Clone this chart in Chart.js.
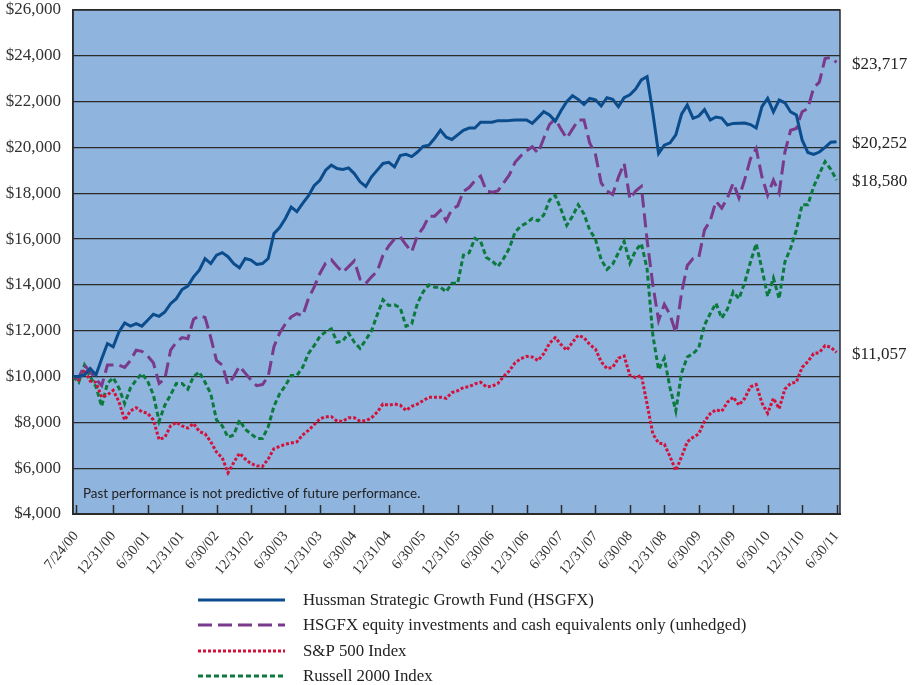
<!DOCTYPE html>
<html>
<head>
<meta charset="utf-8">
<script src="https://cdn.jsdelivr.net/npm/chart.js@4/dist/chart.umd.min.js"></script>
<style>
html,body{margin:0;padding:0;background:#fff;}
canvas{display:block;}
</style>
</head>
<body>
<canvas id="c" width="918" height="685"></canvas>
<script>
// Tick labels (every 6 months) and their positions in the monthly series (index)
const tickLabels = ['7/24/00','12/31/00','6/30/01','12/31/01','6/30/02','12/31/02','6/30/03','12/31/03','6/30/04','12/31/04','6/30/05','12/31/05','6/30/06','12/31/06','6/30/07','12/31/07','6/30/08','12/31/08','6/30/09','12/31/09','6/30/10','12/31/10','6/30/11'];
const tickIndex = [0.5,7,13,19,25,31,37,43,49,55,61,67,73,79,85,91,97,103,109,115,121,127,133];

const seriesNames = [
  'Hussman Strategic Growth Fund (HSGFX)',
  'HSGFX equity investments and cash equivalents only (unhedged)',
  'S&P 500 Index',
  'Russell 2000 Index'
];

const hsgfx = [10000,10000,10070,10350,10070,10780,11440,11300,11950,12340,12200,12310,12200,12460,12720,12630,12820,13180,13400,13800,
13950,14350,14640,15150,14930,15300,15410,15230,14930,14750,15150,15080,14890,14930,15150,16240,16500,16900,17400,17200,
17560,17880,18330,18570,19010,19230,19080,19040,19110,18860,18500,18300,18720,19010,19300,19350,19150,19650,19700,19600,
19800,20050,20100,20400,20750,20450,20350,20550,20750,20850,20850,21100,21100,21100,21170,21170,21180,21200,21200,21200,
21050,21300,21560,21420,21150,21600,22000,22260,22100,21880,22140,22080,21810,22170,22100,21780,22170,22300,22550,22950,
23090,21500,19740,20100,20200,20550,21450,21850,21270,21370,21650,21200,21330,21280,20980,21050,21060,21070,21000,20850,
21780,22140,21550,22070,21950,21550,21420,20330,19780,19700,19800,20000,20230,20252];

const unhedged = [10000,9950,10500,10200,9900,9600,10500,10500,10500,10400,10700,11150,11100,10900,10600,9700,9900,11150,11500,11700,
11650,12500,12650,12580,11700,10700,10500,9650,10000,10450,10150,9850,9600,9650,10000,11300,11900,12300,12600,12750,
12650,13400,13900,14500,14950,15100,14800,14550,14800,15050,14250,14060,14350,14600,15300,15700,16000,16100,15750,15450,
16150,16500,17000,17000,17250,16800,17300,17450,18080,18250,18550,18750,18100,18050,18100,18450,18800,19350,19630,19850,
20030,19750,20400,21000,21250,20800,20400,20800,21200,21200,20200,19700,18450,18100,17950,18700,19300,17750,18100,18300,
15950,14000,12450,13150,12700,11900,13650,14850,15150,15200,16400,16800,17650,17350,17800,18450,17800,18600,19500,19950,
18720,17920,18570,18020,19800,20750,20830,21560,21700,22600,22850,23880,23930,23717];

const sp500 = [10000,9850,10300,9800,9750,9100,9200,9400,8900,8100,8500,8640,8460,8400,8100,7250,7350,7850,8000,7850,
7750,7950,7600,7500,7150,6700,6450,5800,6250,6650,6400,6200,6100,6080,6400,6850,6950,7050,7100,7150,
7450,7650,7900,8150,8250,8250,8050,8050,8200,8200,8050,8070,8200,8450,8800,8750,8800,8750,8520,8700,
8800,8950,9100,9100,9100,9050,9300,9380,9520,9560,9680,9750,9550,9580,9700,10000,10250,10600,10780,10880,
10850,10700,11000,11450,11700,11400,11150,11500,11800,11700,11400,11200,10650,10350,10400,10800,10900,10050,9950,10050,
8800,7500,7100,7050,6500,5900,6500,7150,7350,7500,8050,8380,8550,8480,8880,9100,8750,9050,9550,9650,
8850,8400,9050,8600,9450,9700,9760,10400,10650,11000,11050,11350,11280,11057];

const russell = [10000,9750,10500,10000,9550,8700,9700,9950,9500,8820,9500,9850,10130,9800,9200,8050,8750,9200,9700,9700,
9450,10000,10200,9750,9250,8100,7850,7350,7450,8100,7700,7500,7300,7300,7800,8700,9250,9600,10050,10050,
10400,11000,11350,11750,11950,12080,11500,11550,11900,11500,11230,11600,12000,12700,13350,13100,13130,13000,12200,12300,
13200,13700,14000,13900,13900,13700,14070,14070,15300,15400,16030,15900,15200,15050,14800,15150,15600,16300,16570,16700,
16900,16800,17050,17700,17900,17300,16600,17000,17500,17100,16400,16000,15100,14680,14900,15400,15900,14950,15500,15800,
14700,11800,10300,10800,9500,8500,10150,10850,11000,11250,12250,12750,13200,12550,12950,13700,13400,14100,15000,15800,
14700,13500,14300,13400,15000,15600,16400,17500,17500,18280,18850,19380,19050,18580];

const noteText = 'Past performance is not predictive of future performance.';

const toPts = arr => arr.map((v, i) => ({x: i, y: v}));
const fmt = v => '$' + Number(v).toLocaleString('en-US');

const colors = ['#0b4c8c', '#7a3a8c', '#d3123c', '#0b7a3c'];
const dashes = [[], [14, 6], [3, 2], [5, 3]];
const values = [hsgfx, unhedged, sp500, russell];

const datasets = values.map((arr, k) => ({
  label: seriesNames[k],
  data: toPts(arr),
  borderColor: colors[k],
  borderWidth: 3,
  borderDash: dashes[k],
  pointRadius: 0,
  fill: false,
  tension: 0
}));

const decor = {
  id: 'decor',
  beforeDraw(chart) {
    const {ctx, chartArea: a} = chart;
    ctx.save();
    ctx.fillStyle = '#8fb4de';
    ctx.fillRect(a.left, a.top, a.right - a.left, a.bottom - a.top);
    ctx.restore();
  },
  beforeDatasetsDraw(chart) {
    const {ctx, chartArea: a, scales} = chart;
    ctx.save();
    ctx.strokeStyle = '#2b2b2b';
    ctx.lineWidth = 1.5;
    ctx.strokeRect(a.left, a.top, a.right - a.left, a.bottom - a.top);
    ctx.lineWidth = 1.5;
    tickIndex.forEach(v => {
      const x = Math.round(scales.x.getPixelForValue(v)) + 0.5;
      ctx.beginPath();
      ctx.moveTo(x, a.bottom);
      ctx.lineTo(x, a.bottom - 9);
      ctx.stroke();
    });
    ctx.fillStyle = '#222';
    ctx.font = '13.4px Lato';
    ctx.textBaseline = 'middle';
    ctx.textAlign = 'left';
    ctx.fillText(noteText, a.left + 10, a.bottom - 20);
    ctx.restore();
  },
  afterDraw(chart) {
    const {ctx, chartArea: a, scales} = chart;
    ctx.save();
    ctx.fillStyle = '#222';
    ctx.font = '17px "Liberation Serif"';
    ctx.textAlign = 'left';
    ctx.textBaseline = 'middle';
    values.forEach(arr => {
      const v = arr[arr.length - 1];
      ctx.fillText(fmt(v), a.right + 12, scales.y.getPixelForValue(v) + 2);
    });
    ctx.font = '16.8px "Liberation Serif"';
    const rowY = [600, 625, 651, 676];
    chart.data.datasets.forEach((ds, k) => {
      ctx.strokeStyle = ds.borderColor;
      ctx.lineWidth = 3;
      ctx.setLineDash(ds.borderDash || []);
      ctx.beginPath();
      ctx.moveTo(198, rowY[k]);
      ctx.lineTo(285, rowY[k]);
      ctx.stroke();
      ctx.setLineDash([]);
      ctx.fillStyle = '#222';
      ctx.fillText(ds.label, 303, rowY[k] + 1);
    });
    ctx.restore();
  }
};

new Chart(document.getElementById('c'), {
  type: 'line',
  data: {datasets},
  options: {
    responsive: false,
    animation: false,
    layout: {padding: {left: 0, right: 78, top: 0, bottom: 0}},
    plugins: {legend: {display: false}, tooltip: {enabled: false}},
    scales: {
      x: {
        type: 'linear',
        min: 0,
        max: 133.6,
        afterBuildTicks: s => { s.ticks = tickIndex.map(v => ({value: v})); },
        afterFit: s => { s.height = 171; },
        grid: {display: false, drawTicks: false},
        border: {display: true, color: '#2b2b2b', width: 2},
        ticks: {
          autoSkip: false,
          minRotation: 50,
          maxRotation: 50,
          padding: 14,
          color: '#333',
          font: {family: 'Liberation Serif', size: 14.5},
          callback: (v, i) => tickLabels[i]
        }
      },
      y: {
        min: 4000,
        max: 26000,
        afterFit: s => { s.width = 73; s.paddingTop = 10; s.paddingBottom = 0; },
        grid: {color: '#2b2b2b', lineWidth: 1.2, drawTicks: false},
        border: {display: true, color: '#2b2b2b', width: 1.5},
        ticks: {
          stepSize: 2000,
          padding: 12,
          color: '#333',
          font: {family: 'Liberation Serif', size: 17},
          callback: v => fmt(v)
        }
      }
    }
  },
  plugins: [decor]
});
</script>
</body>
</html>
